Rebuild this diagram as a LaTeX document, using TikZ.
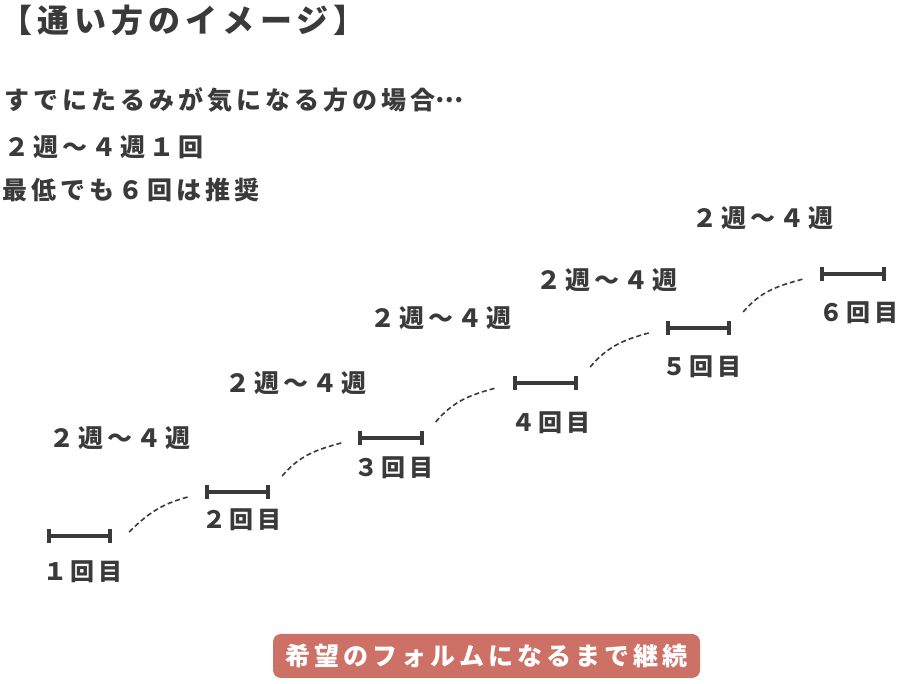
\documentclass[tikz,border=0pt]{standalone}
\usepackage{fontspec}
\newfontfamily\jpfont[LetterSpace=16]{Noto Sans CJK JP}
\usetikzlibrary{arrows.meta}
\definecolor{ink}{RGB}{58,58,58}
\definecolor{salmon}{RGB}{205,113,103}
\begin{document}
\begin{tikzpicture}[x=1pt,y=1pt,
        txt/.style={inner sep=0pt,text=ink,font=\jpfont\bfseries\fontsize{25}{28}\selectfont},
        head/.style={txt,anchor=west,font=\jpfont\bfseries\fontsize{32}{36}\selectfont},
        interval/.style={txt,font=\jpfont\bfseries\fontsize{25}{28}\selectfont},
        count/.style={txt,font=\jpfont\bfseries\fontsize{24}{28}\selectfont},
        visit/.style={minimum width=65pt,minimum height=13pt,inner sep=0pt},
        visitbar/.style={draw=ink,line width=4pt,{Bar[width=14pt]}-{Bar[width=14pt]}},
        gap/.style={draw=ink,line width=1.6pt,dash pattern=on 5pt off 3pt},
        goal/.style={fill=salmon,rounded corners=8pt,minimum width=427pt,minimum height=44pt,inner sep=0pt,text=white,font=\jpfont\bfseries\fontsize{25}{28}\selectfont}]
        \useasboundingbox (0,0) rectangle (900,684);

        \node[head] (title) at (0, 664) {【通い方のイメージ】};
        \node[txt,anchor=west] (intro) at (4, 584) {すでにたるみが気になる方の場合\raisebox{.3em}{…}};
        \node[txt,anchor=west] (pace) at (4, 537) {２週～４週１回};
        \node[txt,anchor=west] (least) at (2, 494) {最低でも６回は推奨};

        \node[interval] (w1) at (120, 246) {２週～４週};
        \node[interval] (w2) at (296, 301) {２週～４週};
        \node[interval] (w3) at (441, 366) {２週～４週};
        \node[interval] (w4) at (607, 404) {２週～４週};
        \node[interval] (w5) at (763, 466) {２週～４週};

        \node[visit] (v1) at (79.5, 148) {};
        \node[visit] (v2) at (237.5, 192) {};
        \node[visit] (v3) at (391, 246) {};
        \node[visit] (v4) at (545.5, 301) {};
        \node[visit] (v5) at (698.5, 356) {};
        \node[visit] (v6) at (853, 410) {};

        \draw[visitbar] (v1.west) -- (v1.east);
        \draw[visitbar] (v2.west) -- (v2.east);
        \draw[visitbar] (v3.west) -- (v3.east);
        \draw[visitbar] (v4.west) -- (v4.east);
        \draw[visitbar] (v5.west) -- (v5.east);
        \draw[visitbar] (v6.west) -- (v6.east);

        \node[count] (n1) at (83, 112) {１回目};
        \node[count] (n2) at (242, 164) {２回目};
        \node[count] (n3) at (394, 216) {３回目};
        \node[count] (n4) at (551, 261) {４回目};
        \node[count] (n5) at (702, 317) {５回目};
        \node[count] (n6) at (859, 371) {６回目};

        \draw[gap] ([shift={(17,4)}]v1.east) to[out=45,in=195] ([shift={(-17,-5)}]v2.west);
        \draw[gap] ([shift={(12,16)}]v2.east) to[out=50,in=195] ([shift={(-17,-5)}]v3.west);
        \draw[gap] ([shift={(12,16)}]v3.east) to[out=50,in=195] ([shift={(-17,-5)}]v4.west);
        \draw[gap] ([shift={(12,16)}]v4.east) to[out=50,in=195] ([shift={(-17,-5)}]v5.west);
        \draw[gap] ([shift={(12,16)}]v5.east) to[out=50,in=195] ([shift={(-17,-5)}]v6.west);

        \node[goal] (keep) at (486.5, 28) {希望のフォルムになるまで継続};
    \end{tikzpicture}
\end{document}
